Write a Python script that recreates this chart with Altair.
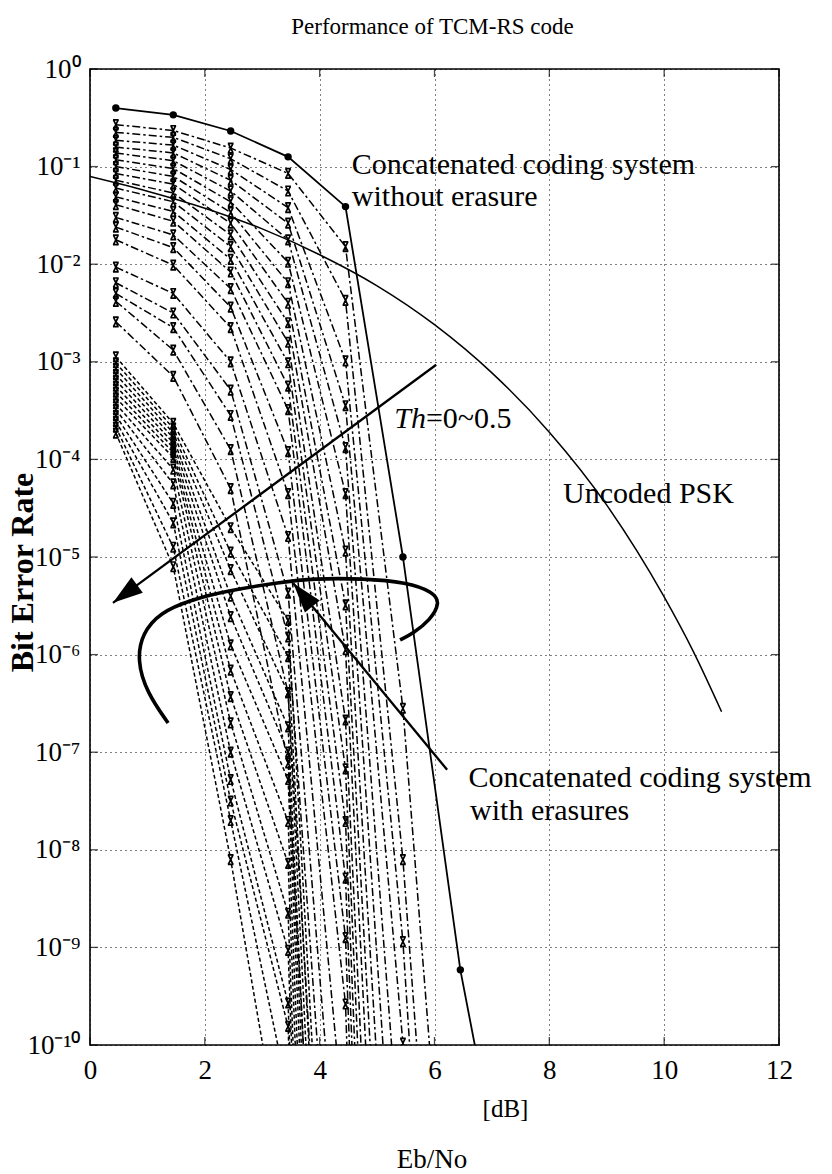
import altair as alt
import pandas as pd

FONT = "Liberation Serif"
W, H = 689, 976

# ---------------- axes ----------------
X_TICKS = [0, 2, 4, 6, 8, 10, 12]
Y_EXPONENTS = [0, -1, -2, -3, -4, -5, -6, -7, -8, -9, -10]

# ---------------- uncoded PSK ----------------
PSK_EBNO = [0, 1, 2, 3, 4, 5, 6, 7, 8, 9, 10, 10.5, 11]
PSK_BER = [0.079, 0.056, 0.0375, 0.023, 0.0125, 0.006, 0.0024, 7.7e-4,
           1.9e-4, 3.4e-5, 3.9e-6, 1.1e-6, 2.6e-7]

# ---------------- concatenated, without erasure (log10 BER) ----------------
NOER_EBNO = [0.45, 1.45, 2.45, 3.45, 4.45, 5.45, 6.45, 6.80]
NOER_LOG = [-0.40, -0.47, -0.635, -0.90, -1.41, -5.00, -9.23, -10.3]
NOER_MARKED = [1, 1, 1, 1, 1, 1, 1, 0]

# ---------------- threshold families (log10 BER at each simulated Eb/No) ----------------
SIM_EBNO = [0.45, 1.45, 2.45, 3.45, 4.45, 5.45, 6.45]

UP_045 = [-0.57, -0.65, -0.73, -0.80, -0.86, -0.93, -1.00, -1.07, -1.14, -1.22,
          -1.31, -1.39, -1.52, -1.62, -1.75, -2.03, -2.19, -2.30, -2.38, -2.59]
UP_145 = [-0.63, -0.70, -0.78, -0.86, -0.94, -1.02, -1.10, -1.18, -1.27, -1.36,
          -1.46, -1.56, -1.70, -1.83, -2.01, -2.30, -2.50, -2.65, -2.88, -3.15]
UP_245 = [-0.81, -0.92, -1.03, -1.14, -1.25, -1.36, -1.47, -1.58, -1.70, -1.82,
          -1.95, -2.08, -2.25, -2.44, -2.65, -3.00, -3.29, -3.55, -3.90, -4.30]
UP_345 = [-1.07, -1.25, -1.42, -1.58, -1.75, -1.98, -2.19, -2.40, -2.60, -2.80,
          -3.01, -3.25, -3.49, -3.92, -4.35, -4.79, -5.37, -5.82, -6.39, -7.11]
UP_445 = [-1.82, -2.37, -2.99, -3.45, -3.88, -4.35, -4.94, -5.49, -5.95, -6.67,
          -7.17, -7.71, -8.29, -8.90, -9.58, -11.0, -12.5, -14.0, -16.0, -18.0]
UP_545 = [-6.55, -8.10, -8.94, -9.98, -11.5, -13.0, -14.5, -16.0, -17.5, -19.0,
          -20.5, -22.0, -23.5, -25.0, -27.0, None, None, None, None, None]
UP_645 = [-14.0, -16.0, -18.0, -20.0, None, None, None, None, None, None,
          None, None, None, None, None, None, None, None, None, None]

LO_045 = [-2.95, -3.01, -3.07, -3.13, -3.19, -3.25, -3.31, -3.37, -3.43, -3.49,
          -3.55, -3.61, -3.67, -3.73]
LO_145 = [-3.63, -3.68, -3.73, -3.78, -3.83, -3.88, -3.93, -3.98, -4.10, -4.25,
          -4.45, -4.65, -4.90, -5.10]
LO_245 = [-4.70, -4.95, -5.13, -5.40, -5.61, -5.90, -6.16, -6.43, -6.70, -7.00,
          -7.28, -7.50, -7.70, -8.10]
LO_345 = [-5.65, -6.02, -6.39, -6.74, -7.00, -7.28, -7.71, -8.14, -8.65, -9.03,
          -9.57, -9.81, -10.5, -11.5]
LO_445 = [-16.0, -17.0, -18.0, -19.0, -20.0, -21.0, -22.0, -23.0, -24.0, -25.0,
          -26.0, -27.0, -28.0, -29.0]

# ---------------- annotations (data coordinates: Eb/No, log10 BER) ----------------
ARROW1_EBNO = [6.03, 0.40]
ARROW1_LOG = [-3.03, -5.47]
ARROW2_EBNO = [6.22, 3.54]
ARROW2_LOG = [-7.18, -5.27]
ARC_EBNO = [1.36, 0.99, 0.82, 0.91, 1.22, 1.74, 2.44, 3.31, 3.89, 4.76, 5.52,
            5.98, 6.10, 5.92, 5.63, 5.40]
ARC_LOG = [-6.70, -6.39, -6.06, -5.78, -5.57, -5.44, -5.34, -5.26, -5.22, -5.22,
           -5.26, -5.36, -5.47, -5.65, -5.78, -5.85]

LABEL_TEXT = ["Concatenated coding system", "without erasure", "Uncoded PSK",
              "Concatenated coding system", "with erasures"]
LABEL_EBNO = [4.56, 4.56, 8.24, 6.59, 6.62]
LABEL_LOG = [-0.98, -1.31, -4.35, -7.26, -7.60]
TH_EBNO = 5.85
TH_LOG = -3.59

TITLE = "Performance of TCM-RS code"
XLABEL_UNIT = "[dB]"
XLABEL = "Eb/No"
YLABEL = "Bit Error Rate"

# ---------------- data frames ----------------
psk_df = pd.DataFrame({"x": PSK_EBNO, "ber": PSK_BER})
noer_df = pd.DataFrame({"x": NOER_EBNO, "ber": [10 ** v for v in NOER_LOG],
                        "m": NOER_MARKED})


def family(cols, prefix):
    rows = []
    for i in range(len(cols[0])):
        for j, col in enumerate(cols):
            v = col[i]
            if v is None:
                continue
            rows.append({"x": SIM_EBNO[j], "ber": 10 ** v, "curve": f"{prefix}{i}"})
    return pd.DataFrame(rows)


up_df = family([UP_045, UP_145, UP_245, UP_345, UP_445, UP_545, UP_645], "u")
lo_df = family([LO_045, LO_145, LO_245, LO_345, LO_445], "l")
up_pts = up_df[up_df.ber >= 1e-10]
lo_pts = lo_df[lo_df.ber >= 1e-10]

arrow1_df = pd.DataFrame({"x": ARROW1_EBNO, "ber": [10 ** v for v in ARROW1_LOG]})
arrow2_df = pd.DataFrame({"x": ARROW2_EBNO, "ber": [10 ** v for v in ARROW2_LOG]})
arc_df = pd.DataFrame({"x": ARC_EBNO, "ber": [10 ** v for v in ARC_LOG],
                       "i": list(range(len(ARC_EBNO)))})
lab_df = pd.DataFrame({"x": LABEL_EBNO, "ber": [10 ** v for v in LABEL_LOG],
                       "t": LABEL_TEXT})
th_df = pd.DataFrame({"x": [TH_EBNO], "ber": [10 ** TH_LOG]})

# ---------------- scales / axes ----------------
SUP = str.maketrans("0123456789-", "⁰¹²³⁴⁵⁶⁷⁸⁹⁻")
y_labels = ["10" + str(e).translate(SUP) for e in Y_EXPONENTS]
expr = ""
for e, lab in zip(Y_EXPONENTS[:-1], y_labels[:-1]):
    expr += f"datum.value >= {10 ** (e - 0.5):.6g} ? '{lab}' : "
expr += f"'{y_labels[-1]}'"

xs = alt.Scale(domain=[0, 12], nice=False, zero=False)
ys = alt.Scale(type="log", domain=[1e-10, 1], nice=False)

x_axis = alt.Axis(values=X_TICKS, grid=True, gridDash=[1, 4], gridColor="black",
                  gridWidth=1, ticks=False, domain=False, labelFont=FONT,
                  labelFontSize=27, labelPadding=12, labelColor="black",
                  labelFlush=False, labelOverlap=False,
                  title=XLABEL_UNIT, titleFont=FONT, titleFontSize=25,
                  titleFontWeight="normal", titleColor="black",
                  titleX=415, titleY=63, titleBaseline="middle", titleAlign="center")
y_axis = alt.Axis(values=[10 ** e for e in Y_EXPONENTS], labelExpr=expr, grid=True,
                  gridDash=[1, 4], gridColor="black", gridWidth=1, ticks=False,
                  domain=False, labelFont=FONT, labelFontSize=27, labelPadding=10,
                  labelColor="black", labelFlush=False, labelOverlap=False,
                  title=YLABEL, titleFont=FONT, titleFontSize=32,
                  titleFontWeight="bold", titleColor="black", titleX=-68,
                  titleY=503, titleAngle=270, titleAlign="center",
                  titleBaseline="middle")

X = alt.X("x:Q", scale=xs, axis=x_axis)
Y = alt.Y("ber:Q", scale=ys, axis=y_axis)

XMARK = "M-0.5,-1L0.5,1M0.5,-1L-0.5,1M-0.6,-1L0.6,-1M-0.6,1L0.6,1"
HEAD = "M0,0L0.32,1L-0.32,1Z"

layers = []
# uncoded PSK
layers.append(alt.Chart(psk_df).mark_line(color="black", strokeWidth=1.5,
                                          interpolate="monotone", clip=True)
              .encode(x=X, y=Y))
# upper family (dash-dot)
layers.append(alt.Chart(up_df).mark_line(color="black", strokeWidth=1.5,
                                         strokeDash=[8, 3, 2.5, 3], clip=True)
              .encode(x=X, y=Y, detail="curve:N"))
layers.append(alt.Chart(up_pts).mark_point(shape=XMARK, filled=False, color="black",
                                           size=90, strokeWidth=1.7, opacity=1, clip=True)
              .encode(x=X, y=Y))
# lower family (dashed)
layers.append(alt.Chart(lo_df).mark_line(color="black", strokeWidth=1.5,
                                         strokeDash=[4, 2.5], clip=True)
              .encode(x=X, y=Y, detail="curve:N"))
layers.append(alt.Chart(lo_pts).mark_point(shape=XMARK, filled=False, color="black",
                                           size=90, strokeWidth=1.7, opacity=1, clip=True)
              .encode(x=X, y=Y))
# without erasure
layers.append(alt.Chart(noer_df).mark_line(color="black", strokeWidth=1.8, clip=True)
              .encode(x=X, y=Y))
layers.append(alt.Chart(noer_df[noer_df.m == 1]).mark_point(shape="circle", filled=True,
                                                            color="black", size=55,
                                                            opacity=1, clip=True)
              .encode(x=X, y=Y))
# annotations: arrows & arc
layers.append(alt.Chart(arrow1_df).mark_line(color="black", strokeWidth=2.3)
              .encode(x=X, y=Y))
layers.append(alt.Chart(arrow1_df.iloc[[1]]).mark_point(shape=HEAD, filled=True,
                                                        color="black", size=3600,
                                                        angle=233.6, opacity=1)
              .encode(x=X, y=Y))
layers.append(alt.Chart(arrow2_df).mark_line(color="black", strokeWidth=2.3)
              .encode(x=X, y=Y))
layers.append(alt.Chart(arrow2_df.iloc[[1]]).mark_point(shape=HEAD, filled=True,
                                                        color="black", size=3600,
                                                        angle=320.5, opacity=1)
              .encode(x=X, y=Y))
layers.append(alt.Chart(arc_df).mark_line(color="black", strokeWidth=3.6,
                                          interpolate="basis")
              .encode(x=X, y=Y, order="i:Q"))
# annotation text
layers.append(alt.Chart(lab_df).mark_text(font=FONT, fontSize=30, align="left",
                                          baseline="middle", color="black")
              .encode(x=X, y=Y, text="t:N"))
layers.append(alt.Chart(th_df).mark_text(font=FONT, fontSize=30, align="right",
                                         baseline="middle", color="black",
                                         fontStyle="italic", text="Th")
              .encode(x=X, y=Y))
layers.append(alt.Chart(th_df).mark_text(font=FONT, fontSize=30, align="left",
                                         baseline="middle", color="black",
                                         text="=0~0.5")
              .encode(x=X, y=Y))
# inner ticks on the frame
ytick_df = pd.DataFrame({"ber": [10 ** e for e in Y_EXPONENTS]})
xtick_df = pd.DataFrame({"x": X_TICKS})
for xv in (4, W - 4):
    layers.append(alt.Chart(ytick_df).mark_tick(orient="horizontal", size=8,
                                                thickness=1.3, color="black")
                  .encode(y=Y, x=alt.value(xv)))
for yv in (4, H - 4):
    layers.append(alt.Chart(xtick_df).mark_tick(orient="vertical", size=8,
                                                thickness=1.3, color="black")
                  .encode(x=X, y=alt.value(yv)))
# title and bottom label
layers.append(alt.Chart(pd.DataFrame({"t": [TITLE]})).mark_text(
    font=FONT, fontSize=23, align="center", baseline="middle", color="black")
    .encode(x=alt.value(W / 2 - 2), y=alt.value(-42), text="t:N"))
layers.append(alt.Chart(pd.DataFrame({"t": [XLABEL]})).mark_text(
    font=FONT, fontSize=27, align="center", baseline="middle", color="black")
    .encode(x=alt.value(342), y=alt.value(1091), text="t:N"))

chart = alt.layer(*layers).properties(
    width=W, height=H,
    padding={"left": 90, "top": 69, "right": 832 - 90 - W, "bottom": 1174 - 69 - H},
    autosize=alt.AutoSizeParams(type="none"),
    background="white",
).configure_view(stroke="black", strokeWidth=1.6
).configure_axis(labelFont=FONT, titleFont=FONT
).configure_text(font=FONT)

chart.save("out.html", embed_options={"renderer": "svg", "actions": False})
